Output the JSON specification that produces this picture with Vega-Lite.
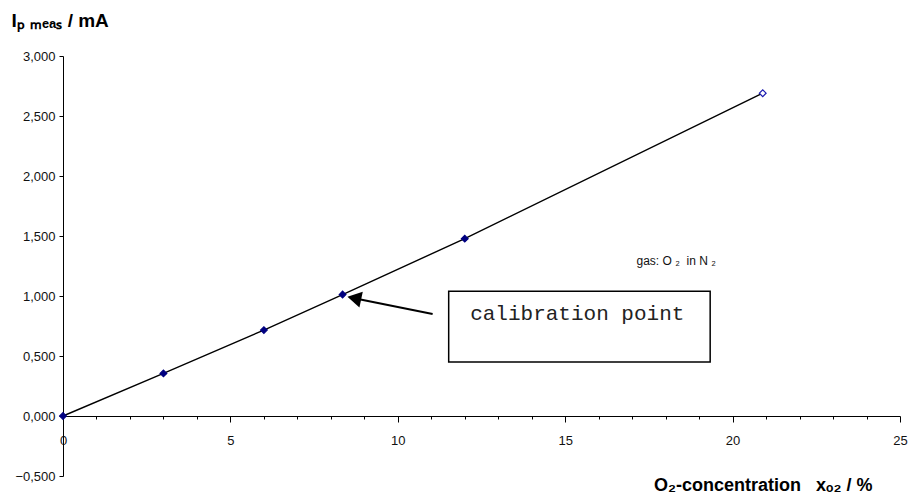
{
  "$schema": "https://vega.github.io/schema/vega-lite/v6.json",
  "width": 837,
  "height": 420,
  "autosize": {"type": "none"},
  "padding": {"left": 63, "top": 56, "right": 10, "bottom": 20},
  "background": "white",
  "config": {
    "view": {"stroke": null},
    "font": "Liberation Sans",
    "axis": {"labelFont": "Liberation Sans", "titleFont": "Liberation Sans", "domainColor": "black", "tickColor": "black", "labelColor": "#111", "titleColor": "#000", "grid": false}
  },
  "datasets": {
    "meas": [
      {"x_O2": 0, "I_P": 0, "marker": "filled"},
      {"x_O2": 3, "I_P": 0.355, "marker": "filled"},
      {"x_O2": 6, "I_P": 0.716, "marker": "filled"},
      {"x_O2": 8.35, "I_P": 1.012, "marker": "filled"},
      {"x_O2": 12, "I_P": 1.478, "marker": "filled"},
      {"x_O2": 20.9, "I_P": 2.69, "marker": "open"}
    ]
  },
  "layer": [
    {
      "data": {"name": "meas"},
      "mark": {"type": "line", "color": "black", "strokeWidth": 1.4},
      "encoding": {
        "x": {
          "field": "x_O2", "type": "quantitative",
          "scale": {"domain": [0, 25], "nice": false, "zero": false},
          "axis": {
            "orient": "bottom",
            "offset": -60,
            "values": [0,1,2,3,4,5,6,7,8,9,10,11,12,13,14,15,16,17,18,19,20,21,22,23,24,25],
            "tickCount": 26,
            "labelExpr": "datum.value % 5 === 0 ? datum.value : ''",
            "tickSize": {"condition": {"test": "datum.value % 5 === 0", "value": 6}, "value": 3},
            "labelPadding": 12,
            "labelFontSize": 13,
            "labelFlush": false,
            "labelOverlap": false,
            "title": "O₂-concentration\u00a0\u00a0\u00a0xₒ₂ / %",
            "titleFontSize": 18,
            "titleFontWeight": "bold",
            "titleAnchor": "end",
            "titleAlign": "right",
            "titleBaseline": "alphabetic",
            "titleX": 809,
            "titleY": 74
          }
        },
        "y": {
          "field": "I_P", "type": "quantitative",
          "scale": {"domain": [-0.5, 3], "nice": false, "zero": false},
          "axis": {
            "values": [-0.5, 0, 0.5, 1, 1.5, 2, 2.5, 3],
            "labelExpr": "replace(format(datum.value, '.3f'), '.', ',')",
            "tickSize": 4,
            "labelPadding": 4,
            "labelFontSize": 13,
            "labelFlush": false,
            "labelOverlap": false,
            "title": "Iₚ ₘₑₐₛ / mA",
            "titleFontSize": 19,
            "titleFontWeight": "bold",
            "titleAngle": 0,
            "titleAlign": "left",
            "titleBaseline": "alphabetic",
            "titleX": -52,
            "titleY": -30
          }
        },
        "order": {"field": "x_O2", "type": "quantitative"}
      }
    },
    {
      "data": {"name": "meas"},
      "mark": {"type": "point", "shape": "diamond", "filled": false, "strokeWidth": 1.2, "size": 45, "opacity": 1},
      "encoding": {
        "x": {"field": "x_O2", "type": "quantitative"},
        "y": {"field": "I_P", "type": "quantitative"},
        "fill": {"field": "marker", "type": "nominal", "scale": {"domain": ["filled", "open"], "range": ["#000080", "white"]}, "legend": null},
        "stroke": {"field": "marker", "type": "nominal", "scale": {"domain": ["filled", "open"], "range": ["#000080", "#1a1ab0"]}, "legend": null}
      }
    },
    {
      "data": {"values": [{"x1": 11.04, "y1": 0.85, "x2": 8.7, "y2": 0.982}]},
      "mark": {"type": "rule", "color": "black", "strokeWidth": 2},
      "encoding": {
        "x": {"field": "x1", "type": "quantitative"},
        "y": {"field": "y1", "type": "quantitative"},
        "x2": {"field": "x2"},
        "y2": {"field": "y2"}
      }
    },
    {
      "data": {"values": [{"x": 8.7, "y": 0.982}]},
      "mark": {"type": "point", "shape": "triangle-left", "filled": true, "color": "black", "size": 260, "angle": 12, "opacity": 1},
      "encoding": {
        "x": {"field": "x", "type": "quantitative"},
        "y": {"field": "y", "type": "quantitative"}
      }
    },
    {
      "data": {"values": [{"x": 11.52, "x2": 19.33, "y": 0.449, "y2": 1.04}]},
      "mark": {"type": "rect", "fill": "white", "stroke": "black", "strokeWidth": 1.5},
      "encoding": {
        "x": {"field": "x", "type": "quantitative"},
        "x2": {"field": "x2"},
        "y": {"field": "y", "type": "quantitative"},
        "y2": {"field": "y2"}
      }
    },
    {
      "data": {"values": [{"x": 15.36, "y": 0.8, "label": "calibration point"}]},
      "mark": {"type": "text", "font": "Liberation Mono", "fontSize": 21, "align": "center", "baseline": "alphabetic", "color": "#222"},
      "encoding": {
        "x": {"field": "x", "type": "quantitative"},
        "y": {"field": "y", "type": "quantitative"},
        "text": {"field": "label"}
      }
    },
    {
      "data": {"values": [{"x": 17.13, "y": 1.256, "label": "gas: O ₂\u00a0\u00a0in N ₂"}]},
      "mark": {"type": "text", "font": "Liberation Sans", "fontSize": 12, "align": "left", "baseline": "alphabetic", "color": "#111"},
      "encoding": {
        "x": {"field": "x", "type": "quantitative"},
        "y": {"field": "y", "type": "quantitative"},
        "text": {"field": "label"}
      }
    }
  ]
}
